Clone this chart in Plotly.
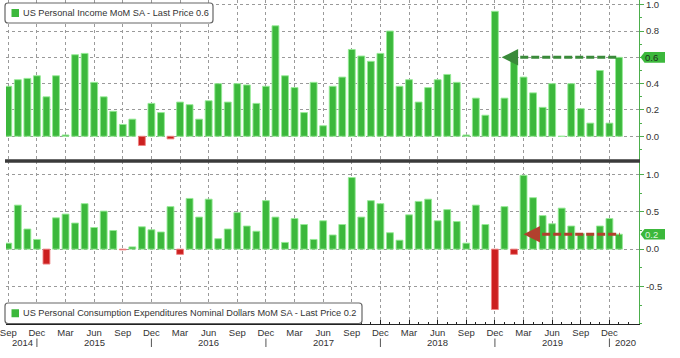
import plotly.graph_objects as go

# ---------------- data ----------------
months = []
_y, _m = 2014, 9
for _ in range(65):
    months.append(f"{_y}-{_m:02d}")
    _m += 1
    if _m > 12:
        _m = 1
        _y += 1

MON = ["Jan", "Feb", "Mar", "Apr", "May", "Jun", "Jul", "Aug", "Sep", "Oct", "Nov", "Dec"]

income = [0.38, 0.43, 0.44, 0.46, 0.30, 0.46, 0.01, 0.62, 0.63, 0.41,
          0.30, 0.19, 0.09, 0.13, -0.07, 0.25, 0.18, -0.02, 0.26, 0.24,
          0.13, 0.27, 0.40, 0.26, 0.40, 0.39, 0.25, 0.38, 0.84, 0.46,
          0.37, 0.18, 0.41, 0.08, 0.38, 0.45, 0.66, 0.61, 0.57, 0.63,
          0.80, 0.38, 0.43, 0.26, 0.37, 0.43, 0.47, 0.41, 0.01, 0.29,
          0.16, 0.95, 0.29, 0.58, 0.45, 0.33, 0.22, 0.40, 0.00, 0.40,
          0.21, 0.10, 0.50, 0.10, 0.60]

pce = [0.08, 0.59, 0.27, 0.13, -0.20, 0.42, 0.47, 0.35, 0.61, 0.29,
       0.51, 0.25, -0.01, 0.03, 0.30, 0.26, 0.23, 0.57, -0.07, 0.68,
       0.43, 0.67, 0.14, 0.27, 0.49, 0.31, 0.24, 0.65, 0.43, 0.09,
       0.41, 0.33, 0.13, 0.38, 0.19, 0.33, 0.96, 0.43, 0.65, 0.61,
       0.22, 0.12, 0.46, 0.64, 0.67, 0.38, 0.53, 0.37, 0.08, 0.59,
       0.33, -0.81, 0.57, -0.07, 0.99, 0.69, 0.45, 0.34, 0.55, 0.31,
       0.21, 0.21, 0.31, 0.41, 0.20]

top_ticks = [0.0, 0.2, 0.4, 0.6, 0.8, 1.0]
top_ticktext = ["0.0", "0.2", "0.4", "", "0.8", "1.0"]
bot_ticks = [-0.5, 0.0, 0.5, 1.0]
bot_ticktext = ["-0.5", "0.0", "0.5", "1.0"]

top_title = "US Personal Income MoM SA - Last Price 0.6"
bot_title = "US Personal Consumption Expenditures Nominal Dollars MoM SA - Last Price 0.2"

# ---------------- geometry / style ----------------
W, H = 680, 358
L, R, T, B = 6, 41, 0, 34
PW, PH = W - L - R, H - T - B
SPLIT_PX = 161
split = (PH - SPLIT_PX) / PH

GREEN = "#3cb83c"
GREEN_EDGE = "rgba(150,235,150,0.9)"
RED = "#cc2020"
RED_EDGE = "rgba(240,130,130,0.9)"
AX_GREEN = "#4cae4c"
GRID = "#9a9a9a"
TXT = "#333333"
FONT = "Liberation Sans, Arial, sans-serif"


def PX(px):
    return (px - L) / PW


def PY(py):
    return (PH - (py - T)) / PH


idx = list(range(len(months)))
qidx = [i for i in idx if int(months[i][5:]) in (3, 6, 9, 12)]
qtext = [MON[int(months[i][5:]) - 1] for i in qidx]


def bar_colors(vals):
    return [GREEN if v >= 0 else RED for v in vals], [GREEN_EDGE if v >= 0 else RED_EDGE for v in vals]


fig = go.Figure()
c1, e1 = bar_colors(income)
fig.add_trace(go.Bar(x=idx, y=income, marker=dict(color=c1, line=dict(color=e1, width=1)),
                     xaxis="x", yaxis="y", showlegend=False, hoverinfo="skip"))
c2, e2 = bar_colors(pce)
fig.add_trace(go.Bar(x=idx, y=pce, marker=dict(color=c2, line=dict(color=e2, width=1)),
                     xaxis="x2", yaxis="y2", showlegend=False, hoverinfo="skip"))

xrange = [-0.24, 66.1]
common_x = dict(range=xrange, tickmode="array", tickvals=qidx, showgrid=True, gridcolor=GRID,
                griddash="dot", gridwidth=1, zeroline=False, ticklabeloverflow="allow")
yax_common = dict(side="right", showline=True, linecolor=AX_GREEN, linewidth=1, ticks="outside",
                  ticklen=4, tickcolor=AX_GREEN, showgrid=True, gridcolor=GRID, griddash="dot",
                  gridwidth=1, zeroline=False, ticklabeloverflow="allow",
                  tickfont=dict(size=9.5, color=TXT, family=FONT))

fig.update_layout(
    width=W, height=H, margin=dict(l=L, r=R, t=T, b=B),
    paper_bgcolor="white", plot_bgcolor="white", bargap=0.28, showlegend=False,
    font=dict(family=FONT, color=TXT),
    xaxis=dict(domain=[0, 1], anchor="y", showticklabels=False, ticks="", showline=False, **common_x),
    xaxis2=dict(domain=[0, 1], anchor="y2", matches="x", ticktext=qtext, showticklabels=True,
                ticks="inside", ticklen=4, tickcolor="#222", showline=True, linecolor="#222",
                linewidth=1, tickfont=dict(size=9.5, color=TXT, family=FONT),
                minor=dict(tick0=0, dtick=1, ticks="inside", ticklen=2.5, tickcolor="#222", showgrid=False),
                **common_x),
    yaxis=dict(domain=[split, 1], anchor="x", range=[-0.188, 1.036], tickmode="array",
               tickvals=top_ticks, ticktext=top_ticktext,
               minor=dict(tick0=0, dtick=0.1, ticks="outside", ticklen=2, tickcolor=AX_GREEN, showgrid=False),
               **yax_common),
    yaxis2=dict(domain=[0, split], anchor="x2", range=[-1.004, 1.182], tickmode="array",
                tickvals=bot_ticks, ticktext=bot_ticktext,
                minor=dict(tick0=0, dtick=0.25, ticks="outside", ticklen=2, tickcolor=AX_GREEN, showgrid=False),
                **yax_common),
)


def rrect(x0, y0, x1, y1, r):
    return (f"M {PX(x0 + r)},{PY(y0)} L {PX(x1 - r)},{PY(y0)} Q {PX(x1)},{PY(y0)} {PX(x1)},{PY(y0 + r)} "
            f"L {PX(x1)},{PY(y1 - r)} Q {PX(x1)},{PY(y1)} {PX(x1 - r)},{PY(y1)} "
            f"L {PX(x0 + r)},{PY(y1)} Q {PX(x0)},{PY(y1)} {PX(x0)},{PY(y1 - r)} "
            f"L {PX(x0)},{PY(y0 + r)} Q {PX(x0)},{PY(y0)} {PX(x0 + r)},{PY(y0)} Z")


shapes = []
annots = []

# separator between panels
shapes.append(dict(type="line", xref="paper", yref="paper", x0=PX(5), x1=PX(640),
                   y0=PY(SPLIT_PX), y1=PY(SPLIT_PX), line=dict(color="#3a3a3a", width=3.5), layer="above"))

# legend boxes
for (bx0, by0, bx1, by1, text, fs) in [(5, 3, 213, 23, top_title, 9.2), (5, 303, 362, 323.5, bot_title, 9.2)]:
    shapes.append(dict(type="path", xref="paper", yref="paper", path=rrect(bx0, by0, bx1, by1, 3),
                       fillcolor="white", line=dict(color="#666666", width=1.2), layer="above"))
    cy = (by0 + by1) / 2
    shapes.append(dict(type="rect", xref="paper", yref="paper", x0=PX(11.5), x1=PX(19),
                       y0=PY(cy - 4), y1=PY(cy + 4), fillcolor=GREEN, line=dict(width=0), layer="above"))
    annots.append(dict(xref="paper", yref="paper", x=PX(21), y=PY(cy), xanchor="left", yanchor="middle",
                       text=text, showarrow=False, font=dict(size=fs, color=TXT, family=FONT)))

# year labels and separators under the x axis
years = sorted(set(m[:4] for m in months))
for yr in years:
    ii = [i for i in idx if months[i].startswith(yr)]
    if len(ii) == 12:
        xpos, anchor = months.index(f"{yr}-06"), "center"
    elif ii[0] == 0:
        xpos, anchor = (ii[0] + ii[-1]) / 2, "center"
    else:
        xpos, anchor = ii[0] - 0.6, "left"
    annots.append(dict(xref="x2", yref="paper", x=xpos, y=PY(342.5), xanchor=anchor, yanchor="middle",
                       text=yr, showarrow=False, font=dict(size=9.5, color=TXT, family=FONT)))
for i in idx:
    if months[i].endswith("-12"):
        shapes.append(dict(type="line", xref="x2", yref="paper", x0=i, x1=i, y0=PY(338.5), y1=PY(347),
                           line=dict(color="#555555", width=1)))

# last price tags + dashed lines
tags = [("y", "x", income[-1], "#1e2e1e", "#3a8a3a", months.index("2018-12") + 0.7),
        ("y2", "x2", pce[-1], "#dff5df", "#b2402e", months.index("2019-03") + 0.0)]
for yref, xref, val, tcol, lcol, xstop in tags:
    shapes.append(dict(type="path", xref="paper", yref=yref, xsizemode="pixel", ysizemode="pixel",
                       xanchor=1, yanchor=val, path="M 1.5,0 L 5.5,5.3 L 26,5.3 L 26,-5.3 L 5.5,-5.3 Z",
                       fillcolor=GREEN, line=dict(width=0), layer="above"))
    annots.append(dict(xref="paper", yref=yref, x=1, y=val, xanchor="left", yanchor="middle", xshift=4,
                       text=f"{val:.1f}", showarrow=False, font=dict(size=9.5, color=tcol, family=FONT)))
    xend = idx[-1] + (-0.15 if yref == "y" else 0.1)
    shapes.append(dict(type="line", xref=xref, yref=yref, x0=xstop + 0.8, x1=xend, y0=val, y1=val,
                       line=dict(color=lcol, width=3, dash="8px,3px"), layer="above"))
    annots.append(dict(xref=xref, yref=yref, x=xstop, y=val, axref=xref, ayref=yref, ax=xstop + 1.0, ay=val,
                       text="", showarrow=True, arrowhead=2, arrowsize=1.1, arrowwidth=3, arrowcolor=lcol,
                       standoff=0, startstandoff=0))

fig.update_layout(shapes=shapes, annotations=annots)
fig.write_html("out.html", config={"displayModeBar": False},
               post_script="document.body.style.margin='0px';")
